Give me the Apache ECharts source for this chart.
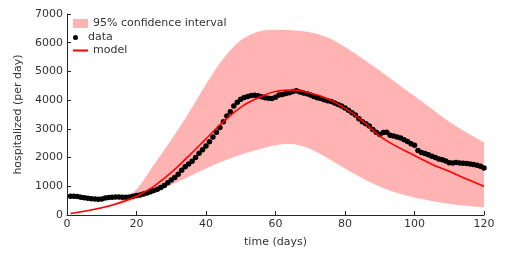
<!DOCTYPE html>
<html>
<head>
<meta charset="utf-8">
<script src="https://cdn.jsdelivr.net/npm/echarts@6/dist/echarts.min.js"></script>
<style>html,body{margin:0;padding:0;background:#fff}#c{width:510px;height:256px}</style>
</head>
<body>
<div id="c"></div>
<script>
// observed data (hospitalized per day), days 1..120
const dataValues = [
  650,650,640,620,600,580,570,560,550,560,
  590,610,620,630,630,620,620,630,650,680,
  700,730,770,810,850,900,960,1030,1120,1220,
  1310,1420,1560,1680,1780,1870,2000,2150,2270,2400,
  2550,2720,2880,3050,3250,3450,3600,3800,3930,4030,
  4090,4130,4160,4170,4150,4120,4080,4070,4060,4100,
  4180,4200,4230,4260,4300,4330,4280,4250,4220,4180,
  4130,4080,4060,4010,3980,3950,3900,3850,3800,3730,
  3650,3560,3480,3350,3250,3180,3100,2980,2880,2800,
  2870,2880,2780,2750,2720,2680,2620,2560,2480,2430,
  2250,2180,2140,2100,2050,2000,1950,1920,1880,1820,
  1810,1830,1810,1800,1790,1780,1760,1730,1700,1640
];
// model and confidence interval read at sample days
const curveDays = [1,5,10,15,20,25,30,35,40,45,50,55,60,65,70,75,80,85,90,95,100,105,110,115,120];
const modelValues = [50,130,250,420,650,1000,1480,2050,2650,3250,3750,4080,4300,4350,4250,4050,3720,3280,2750,2380,2070,1770,1520,1250,1000];
const ciLower = [45,115,220,380,560,760,1050,1330,1620,1880,2100,2280,2430,2470,2300,1980,1620,1280,990,770,610,490,390,320,270];
const ciUpper = [55,145,280,480,900,1750,2620,3550,4550,5450,6080,6380,6450,6430,6360,6180,5850,5450,5030,4580,4140,3690,3250,2870,2530];
const xTicks = [0,20,40,60,80,100,120];
const yTicks = [0,1000,2000,3000,4000,5000,6000,7000];

const dataPts = dataValues.map((v, i) => [i + 1, v]);
const modelPts = curveDays.map((d, i) => [d, modelValues[i]]);
const bandRows = curveDays.map((d, i) => [d, ciLower[i], ciUpper[i]]);

const FONT = 'DejaVu Sans';
const TXT = '#333333';
const AX = '#262626';
const PINK = '#ffb3b3';

// Catmull-Rom smoothing of pixel points (rendering only)
function smoothPix(pts) {
  const out = [];
  const n = pts.length;
  for (let i = 0; i < n - 1; i++) {
    const p0 = pts[Math.max(i - 1, 0)], p1 = pts[i], p2 = pts[i + 1], p3 = pts[Math.min(i + 2, n - 1)];
    const steps = 12;
    for (let s = 0; s < steps; s++) {
      const t = s / steps, t2 = t * t, t3 = t2 * t;
      const f = k => 0.5 * ((2 * p1[k]) + (-p0[k] + p2[k]) * t + (2 * p0[k] - 5 * p1[k] + 4 * p2[k] - p3[k]) * t2 + (-p0[k] + 3 * p1[k] - 3 * p2[k] + p3[k]) * t3);
      out.push([f(0), f(1)]);
    }
  }
  out.push(pts[n - 1]);
  return out;
}

function renderBand(params, api) {
  if (params.dataIndex !== 0) return null;
  const upper = smoothPix(bandRows.map(r => api.coord([r[0], r[2]])));
  const lower = smoothPix(bandRows.map(r => api.coord([r[0], r[1]]))).reverse();
  return {
    type: 'polygon',
    shape: {points: upper.concat(lower)},
    style: {fill: PINK, stroke: null},
    silent: true
  };
}

const chart = echarts.init(document.getElementById('c'), null, {renderer: 'canvas'});
chart.setOption({
  animation: false,
  backgroundColor: '#fff',
  textStyle: {fontFamily: FONT},
  grid: {left: 67, right: 26, top: 14, bottom: 41, containLabel: false},
  legend: [
    {left: 73, top: 18, itemWidth: 15, itemHeight: 9, padding: 0,
     textStyle: {fontFamily: FONT, fontSize: 11, color: TXT},
     data: [{name: '95% confidence interval', icon: 'rect', itemStyle: {color: PINK}}]},
    {left: 73, top: 32, itemWidth: 15, itemHeight: 5, padding: 0,
     textStyle: {fontFamily: FONT, fontSize: 11, color: TXT},
     data: [{name: 'data', icon: 'circle', itemStyle: {color: '#000', opacity: 1}}]},
    {left: 73, top: 45, itemWidth: 15, itemHeight: 2, padding: 0,
     textStyle: {fontFamily: FONT, fontSize: 11, color: TXT},
     data: [{name: 'model', icon: 'rect', itemStyle: {color: '#ff0000'}}]}
  ],
  xAxis: {
    type: 'value', min: xTicks[0], max: xTicks[xTicks.length - 1], interval: 20,
    name: 'time (days)', nameLocation: 'middle', nameGap: 22,
    nameTextStyle: {fontFamily: FONT, fontSize: 11, color: TXT},
    axisLine: {show: true, lineStyle: {color: AX, width: 1}},
    axisTick: {show: true, inside: true, length: 4, lineStyle: {color: AX}},
    axisLabel: {fontFamily: FONT, fontSize: 11, color: TXT, margin: 4, formatter: v => String(v)},
    splitLine: {show: false}
  },
  yAxis: {
    type: 'value', min: yTicks[0], max: yTicks[yTicks.length - 1], interval: 1000,
    name: 'hospitalized (per day)', nameLocation: 'middle', nameGap: 41, nameRotate: 90,
    nameTextStyle: {fontFamily: FONT, fontSize: 11, color: TXT},
    axisLine: {show: true, lineStyle: {color: AX, width: 1}},
    axisTick: {show: true, inside: true, length: 4, lineStyle: {color: AX}},
    axisLabel: {fontFamily: FONT, fontSize: 11, color: TXT, margin: 4, formatter: v => String(v)},
    splitLine: {show: false}
  },
  series: [
    {name: '95% confidence interval', type: 'custom', data: bandRows,
     encode: {x: 0, y: [1, 2]}, renderItem: renderBand,
     itemStyle: {color: PINK}, silent: true, z: 1},
    {name: 'data', type: 'scatter', data: dataPts, symbol: 'circle', symbolSize: 5.5,
     itemStyle: {color: '#000', opacity: 1}, z: 3},
    {name: 'model', type: 'line', data: modelPts, smooth: 0.4, symbol: 'none',
     lineStyle: {color: '#ff0000', width: 1.6}, itemStyle: {color: '#ff0000'}, z: 4}
  ]
});
</script>
</body>
</html>
